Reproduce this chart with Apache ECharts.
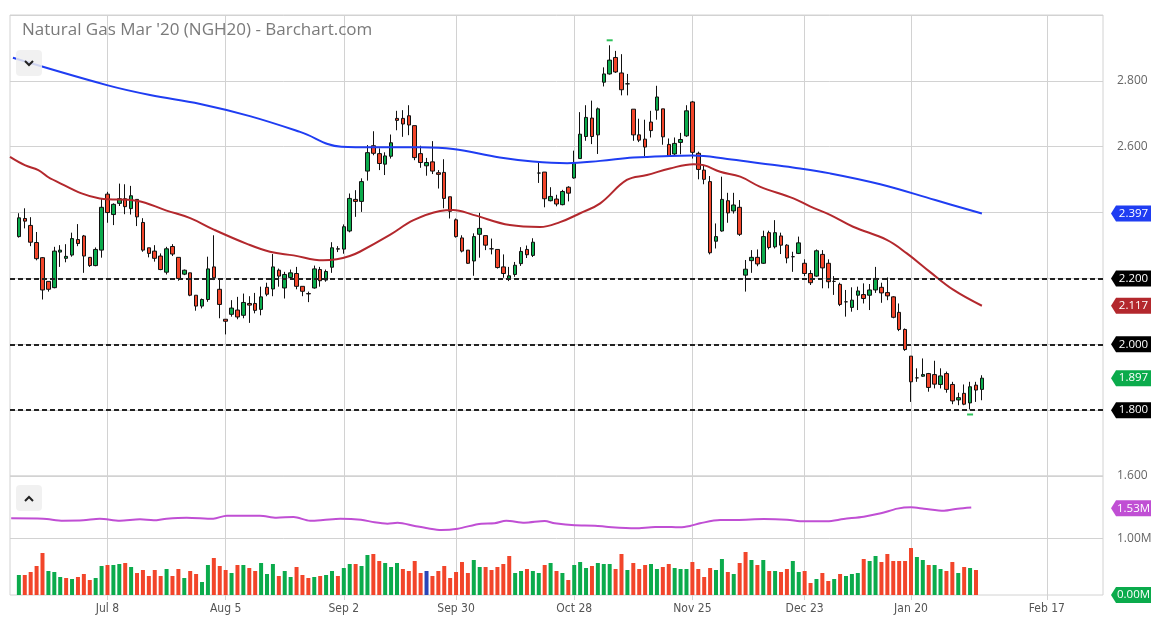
<!DOCTYPE html>
<html><head><meta charset="utf-8">
<script src="https://cdn.jsdelivr.net/npm/echarts/dist/echarts.min.js"></script>
<style>html,body{margin:0;padding:0;background:#fff}#c{width:1157px;height:618px}</style>
</head><body><div id="c"></div>
<script>
// ---- DATA ----
const opens = [2.327,2.382,2.361,2.309,2.263,2.191,2.172,2.280,2.261,2.271,
2.318,2.329,2.264,2.239,2.286,2.456,2.394,2.428,2.442,2.412,
2.440,2.370,2.293,2.283,2.268,2.219,2.297,2.264,2.213,2.217,
2.149,2.116,2.136,2.235,2.167,2.076,2.091,2.104,2.088,2.124,
2.124,2.106,2.173,2.168,2.225,2.171,2.203,2.215,2.176,2.154,
2.171,2.227,2.195,2.234,2.290,2.289,2.344,2.440,2.434,2.526,
2.603,2.579,2.547,2.571,2.686,2.686,2.694,2.664,2.579,2.542,
2.554,2.521,2.522,2.448,2.378,2.323,2.286,2.253,2.334,2.330,
2.290,2.288,2.235,2.198,2.212,2.245,2.288,2.270,2.520,2.523,
2.436,2.441,2.424,2.477,2.505,2.564,2.631,2.687,2.636,2.796,
2.821,2.871,2.824,2.791,2.714,2.636,2.623,2.675,2.711,2.715,
2.607,2.578,2.613,2.633,2.736,2.580,2.529,2.494,2.313,2.344,
2.436,2.405,2.416,2.210,2.254,2.264,2.246,2.339,2.296,2.329,
2.301,2.266,2.276,2.246,2.215,2.207,2.273,2.246,2.191,2.182,
2.129,2.112,2.149,2.151,2.149,2.165,2.173,2.157,2.144,2.097,
2.045,1.964,1.898,1.903,1.911,1.908,1.878,1.911,1.878,1.831,
1.851,1.822,1.876,1.863];
const closes = [2.384,2.374,2.310,2.260,2.165,2.167,2.283,2.286,2.267,2.321,
2.306,2.268,2.239,2.288,2.416,2.400,2.425,2.442,2.418,2.451,
2.387,2.286,2.276,2.261,2.227,2.290,2.274,2.200,2.225,2.149,
2.116,2.136,2.229,2.202,2.121,2.070,2.110,2.083,2.127,2.119,
2.103,2.144,2.152,2.235,2.207,2.212,2.217,2.176,2.161,2.153,
2.229,2.193,2.221,2.293,2.289,2.357,2.443,2.434,2.494,2.582,
2.580,2.549,2.572,2.612,2.680,2.669,2.666,2.567,2.552,2.552,
2.526,2.516,2.443,2.404,2.327,2.283,2.246,2.327,2.352,2.301,
2.290,2.233,2.215,2.208,2.240,2.282,2.272,2.310,2.520,2.442,
2.449,2.426,2.464,2.459,2.552,2.638,2.689,2.631,2.715,2.821,
2.863,2.827,2.773,2.791,2.636,2.620,2.599,2.649,2.751,2.630,
2.572,2.610,2.622,2.709,2.583,2.531,2.501,2.278,2.327,2.440,
2.399,2.423,2.334,2.228,2.264,2.244,2.327,2.294,2.339,2.301,
2.262,2.266,2.308,2.215,2.187,2.284,2.232,2.190,2.191,2.121,
2.129,2.134,2.162,2.139,2.165,2.200,2.156,2.147,2.082,2.045,
1.984,1.886,1.898,1.908,1.869,1.879,1.904,1.863,1.828,1.838,
1.818,1.871,1.861,1.897];
const lows = [2.324,2.352,2.298,2.255,2.136,2.160,2.170,2.235,2.249,2.266,
2.298,2.217,2.235,2.237,2.263,2.369,2.362,2.420,2.395,2.394,
2.359,2.281,2.264,2.251,2.225,2.212,2.268,2.193,2.210,2.146,
2.102,2.109,2.129,2.195,2.079,2.030,2.084,2.076,2.079,2.065,
2.094,2.088,2.146,2.146,2.175,2.139,2.197,2.167,2.146,2.128,
2.169,2.175,2.190,2.217,2.280,2.275,2.340,2.387,2.402,2.497,
2.574,2.529,2.514,2.564,2.650,2.630,2.635,2.559,2.536,2.512,
2.517,2.473,2.413,2.382,2.324,2.279,2.244,2.208,2.263,2.286,
2.273,2.230,2.202,2.192,2.205,2.238,2.262,2.265,2.490,2.416,
2.434,2.419,2.422,2.434,2.503,2.564,2.618,2.608,2.578,2.783,
2.819,2.824,2.756,2.756,2.618,2.614,2.571,2.628,2.682,2.606,
2.571,2.575,2.577,2.630,2.564,2.501,2.486,2.273,2.291,2.342,
2.369,2.397,2.329,2.160,2.217,2.237,2.244,2.288,2.291,2.274,
2.246,2.220,2.274,2.207,2.180,2.205,2.170,2.170,2.150,2.116,
2.084,2.099,2.104,2.124,2.104,2.156,2.126,2.134,2.079,2.040,
1.980,1.825,1.886,1.901,1.856,1.866,1.866,1.853,1.818,1.815,
1.815,1.802,1.825,1.830];
const highs = [2.398,2.413,2.386,2.341,2.265,2.191,2.296,2.301,2.304,2.339,
2.365,2.332,2.265,2.294,2.443,2.463,2.428,2.488,2.486,2.481,
2.440,2.383,2.293,2.301,2.276,2.296,2.304,2.264,2.227,2.217,
2.149,2.139,2.266,2.331,2.197,2.076,2.134,2.144,2.154,2.146,
2.156,2.175,2.187,2.274,2.230,2.220,2.227,2.235,2.176,2.160,
2.239,2.235,2.227,2.310,2.298,2.364,2.458,2.468,2.504,2.605,
2.647,2.595,2.583,2.637,2.709,2.711,2.726,2.664,2.603,2.566,
2.617,2.529,2.562,2.448,2.382,2.331,2.286,2.337,2.399,2.330,
2.321,2.288,2.273,2.235,2.250,2.295,2.300,2.322,2.552,2.523,
2.477,2.454,2.469,2.480,2.588,2.705,2.726,2.740,2.719,2.841,
2.908,2.891,2.881,2.821,2.714,2.685,2.682,2.709,2.785,2.715,
2.625,2.628,2.642,2.726,2.739,2.585,2.544,2.511,2.367,2.509,
2.460,2.460,2.438,2.256,2.286,2.288,2.345,2.345,2.377,2.339,
2.304,2.281,2.327,2.258,2.225,2.288,2.286,2.258,2.207,2.187,
2.165,2.173,2.175,2.185,2.183,2.235,2.187,2.203,2.146,2.124,
2.048,1.964,1.927,1.957,1.913,1.950,1.927,1.917,1.886,1.853,
1.878,1.886,1.886,1.906];
const volumes = [0.353,0.353,0.406,0.512,0.741,0.424,0.406,0.318,0.300,0.282,
0.318,0.371,0.265,0.300,0.512,0.529,0.529,0.547,0.565,0.494,
0.388,0.441,0.335,0.441,0.335,0.459,0.335,0.459,0.300,0.424,
0.371,0.229,0.529,0.653,0.512,0.441,0.388,0.529,0.529,0.476,
0.424,0.565,0.371,0.547,0.335,0.424,0.318,0.494,0.353,0.300,
0.318,0.335,0.353,0.424,0.335,0.476,0.547,0.547,0.512,0.706,
0.724,0.600,0.565,0.494,0.565,0.459,0.424,0.600,0.388,0.424,
0.335,0.424,0.512,0.300,0.406,0.582,0.388,0.618,0.494,0.494,
0.441,0.494,0.547,0.688,0.388,0.424,0.459,0.424,0.388,0.529,
0.565,0.424,0.388,0.265,0.529,0.582,0.476,0.512,0.565,0.547,
0.547,0.459,0.724,0.441,0.565,0.459,0.529,0.547,0.459,0.494,
0.547,0.476,0.459,0.459,0.582,0.459,0.318,0.476,0.441,0.635,
0.406,0.371,0.565,0.759,0.618,0.529,0.618,0.424,0.424,0.406,
0.459,0.600,0.406,0.424,0.212,0.282,0.388,0.247,0.282,0.371,
0.335,0.371,0.388,0.635,0.600,0.688,0.582,0.724,0.600,0.600,
0.600,0.829,0.671,0.618,0.529,0.529,0.459,0.424,0.582,0.388,
0.494,0.476,0.441,null];
// moving averages sampled along the drawn curves: [bar index, price]
const ma50 = [[-1.5,2.569],[1,2.544],[3.3,2.529],[5.3,2.504],[13.7,2.443],[19.9,2.436],[25,2.406],[29,2.383],
[32.9,2.349],[38.6,2.305],[42.5,2.281],[46.5,2.270],[51.5,2.255],[53.8,2.258],[56,2.268],[57.7,2.281],
[62.8,2.332],[66.8,2.377],[71.3,2.405],[73.5,2.408],[76.9,2.393],[83.1,2.362],[88.2,2.356],[91.6,2.371],
[95,2.398],[98.4,2.428],[102.9,2.499],[106.3,2.514],[110.2,2.534],[114.2,2.547],[115.9,2.544],[118.7,2.524],
[122.1,2.509],[125.4,2.479],[131.1,2.443],[134,2.418],[137.3,2.393],[141.2,2.357],[146.9,2.317],
[150.3,2.276],[154.2,2.220],[158.2,2.165],[163,2.117]];
const ma200 = [[-1,2.870],[14.9,2.787],[22.2,2.757],[30.7,2.730],[39.1,2.693],[47.6,2.645],[54.6,2.600],
[60,2.598],[67.9,2.598],[73.5,2.593],[81.4,2.567],[87,2.555],[92.8,2.550],[98.4,2.557],[104,2.567],
[110.2,2.572],[114.1,2.573],[119.9,2.563],[125.4,2.550],[131,2.537],[137.3,2.519],[145.8,2.486],
[155.1,2.438],[163,2.397]];
const openInterest = [[-1.3,1.353],[4.1,1.347],[7.5,1.312],[10.9,1.318],[13.7,1.347],[17.1,1.312],[20.5,1.335],
[22.8,1.318],[25,1.347],[28.4,1.365],[32.9,1.347],[35.2,1.400],[40.8,1.400],[43.6,1.365],[46.5,1.376],
[49.3,1.312],[51.5,1.324],[54.4,1.347],[57.9,1.329],[60.2,1.282],[62.4,1.259],[64.1,1.276],[67,1.218],
[69.2,1.176],[71.5,1.147],[74.3,1.171],[78.3,1.259],[80.5,1.265],[82.5,1.312],[85.6,1.276],[89,1.306],
[90.7,1.265],[94.1,1.229],[97.5,1.224],[99.8,1.200],[104.3,1.176],[107.7,1.200],[110.5,1.200],
[111.9,1.194],[113.6,1.218],[115.3,1.265],[118.7,1.324],[121.5,1.324],[126.1,1.341],[130,1.329],
[132.9,1.300],[136.8,1.300],[139.6,1.341],[143,1.382],[145.9,1.441],[148.7,1.524],[151,1.547],
[153.2,1.524],[156.6,1.488],[158.9,1.524],[161.2,1.545]];
const tickIdx = [15,35,55,74,94,114,133,151,174];
const tickLabels = ['Jul 8','Aug 5','Sep 2','Sep 30','Oct 28','Nov 25','Dec 23','Jan 20','Feb 17'];
const levels = [2.2, 2.0, 1.8];
const priceLabels = [1.6, 2.6, 2.8];
const lastPrice = 1.897, lastMA50 = 2.117, lastMA200 = 2.397, lastOI = 1.53;
const highIdx = 100, lowIdx = 161;
const titleText = "Natural Gas Mar '20 (NGH20) - Barchart.com";

// ---- STYLE ----
const GREEN = '#0bab4c', RED = '#f2452a', BLUE_V = '#2a46b8';
const GRID = '#d2d2d2';
const chart = echarts.init(document.getElementById('c'));
const candleData = opens.map((o,i)=>[i, o, closes[i], lows[i], highs[i]]);
const volData = [];
volumes.forEach((v,i)=>{
  if (v == null) return;
  let c = GREEN;
  if (i > 0) c = closes[i] > closes[i-1] ? GREEN : (closes[i] < closes[i-1] ? RED : BLUE_V);
  volData.push({value:[i, v], itemStyle:{color:c}});
});
const labelMap = {}; tickIdx.forEach((t,k)=>labelMap[t]=tickLabels[k]);
const xCommon = {type:'value', min:-1.5, max:183.5, axisLine:{show:false},
  splitLine:{show:true, lineStyle:{color:GRID, width:1}},
  axisTick:{show:false, customValues:tickIdx}, axisLabel:{show:false, customValues:tickIdx}};

chart.setOption({
  animation:false,
  backgroundColor:'#fff',
  grid:[{left:10, right:54, top:15, height:461, show:true, borderColor:GRID, borderWidth:1},
        {left:10, right:54, top:476, height:119, show:true, borderColor:GRID, borderWidth:1}],
  xAxis:[Object.assign({gridIndex:0}, xCommon),
    Object.assign({}, xCommon, {gridIndex:1,
      axisTick:{show:true, customValues:tickIdx, length:5, lineStyle:{color:GRID}},
      axisLabel:{show:true, customValues:tickIdx, margin:8, color:'#555', fontSize:12,
        fontFamily:"'Liberation Sans Narrow','DejaVu Sans Condensed','Open Sans'",
        formatter:v=>labelMap[Math.round(v)]||''}})],
  yAxis:[{gridIndex:0, type:'value', position:'right', min:1.6, max:3.0, interval:0.2,
      axisLine:{show:false}, axisTick:{show:false},
      splitLine:{lineStyle:{color:GRID}},
      axisLabel:{margin:14, color:'#666', fontSize:12, fontFamily:'Open Sans',
        formatter:v=>priceLabels.some(p=>Math.abs(p-v)<1e-6)?v.toFixed(3):''}},
    {gridIndex:1, type:'value', position:'right', min:0, max:2.1, interval:1,
      axisLine:{show:false}, axisTick:{show:false}, splitLine:{show:false},
      axisLabel:{margin:14, color:'#666', fontSize:12, fontFamily:'Open Sans',
        formatter:v=>Math.abs(v-1)<1e-6?'1.00M':''}}],
  series:[
    {type:'candlestick', xAxisIndex:0, yAxisIndex:0, data:candleData, barWidth:4,
      encode:{x:0, y:[1,2,3,4]},
      itemStyle:{color:GREEN, color0:RED, borderColor:'#111', borderColor0:'#111', borderColorDoji:'#111', borderWidth:1},
      markPoint:{silent:true, symbol:'rect', symbolSize:[6,2], label:{show:false},
        itemStyle:{color:'#2fc25b'},
        data:[{coord:[highIdx, highs[highIdx]], symbolOffset:[0,-5]},
              {coord:[lowIdx, lows[lowIdx]], symbolOffset:[0,5]}]},
      markLine:{silent:true, symbol:['none','none'], label:{show:false},
        lineStyle:{color:'#222', type:[5,3], width:2},
        data:levels.map(v=>({yAxis:v}))}},
    {type:'line', xAxisIndex:0, yAxisIndex:0, data:ma200, showSymbol:false, smooth:0.4,
      lineStyle:{color:'#1f3df2', width:2}, silent:true, z:3},
    {type:'line', xAxisIndex:0, yAxisIndex:0, data:ma50, showSymbol:false, smooth:0.4,
      lineStyle:{color:'#b3282d', width:2}, silent:true, z:3},
    {type:'bar', xAxisIndex:1, yAxisIndex:1, data:volData, barWidth:4, silent:true,
      markLine:{silent:true, symbol:['none','none'], label:{show:false},
        lineStyle:{color:GRID, type:'solid', width:1}, data:[{yAxis:1}]}},
    {type:'line', xAxisIndex:1, yAxisIndex:1, data:openInterest, showSymbol:false, smooth:0.3,
      lineStyle:{color:'#c04fd4', width:2}, silent:true}
  ]
});

function tag(val, axis, text, color){
  const y = chart.convertToPixel({yAxisIndex:axis}, val);
  const x0 = 1111, x1 = 1151, h = 8;
  return {type:'group', children:[
    {type:'polygon', shape:{points:[[x0,y],[x0+5,y-h],[x1,y-h],[x1,y+h],[x0+5,y+h]]}, style:{fill:color}},
    {type:'text', x:(x0+5+x1)/2, y:y, style:{text:text, fill:'#fff', font:"11.5px 'Open Sans'", align:'center', verticalAlign:'middle'}}
  ]};
}
const g = [
  {type:'text', left:22, top:22, style:{text:titleText, fill:'#7a7a7a', font:"17px 'Open Sans'"}},
  {type:'rect', z:10, shape:{x:16, y:50, width:26, height:26, r:4}, style:{fill:'rgba(238,238,238,0.85)'}},
  {type:'polyline', z:11, shape:{points:[[25,61],[29,65],[33,61]]}, style:{stroke:'#222', lineWidth:2, fill:null}},
  {type:'rect', z:10, shape:{x:16, y:485, width:26, height:26, r:4}, style:{fill:'rgba(238,238,238,0.85)'}},
  {type:'polyline', z:11, shape:{points:[[25,501],[29,497],[33,501]]}, style:{stroke:'#222', lineWidth:2, fill:null}},
  tag(lastMA200, 0, lastMA200.toFixed(3), '#1f3df2'),
  tag(levels[0], 0, levels[0].toFixed(3), '#000'),
  tag(lastMA50, 0, lastMA50.toFixed(3), '#b3282d'),
  tag(levels[1], 0, levels[1].toFixed(3), '#000'),
  tag(lastPrice, 0, lastPrice.toFixed(3), GREEN),
  tag(levels[2], 0, levels[2].toFixed(3), '#000'),
  tag(lastOI, 1, lastOI.toFixed(2)+'M', '#c04fd4'),
  tag(0, 1, '0.00M', GREEN)
];
chart.setOption({graphic:g});
</script></body></html>
